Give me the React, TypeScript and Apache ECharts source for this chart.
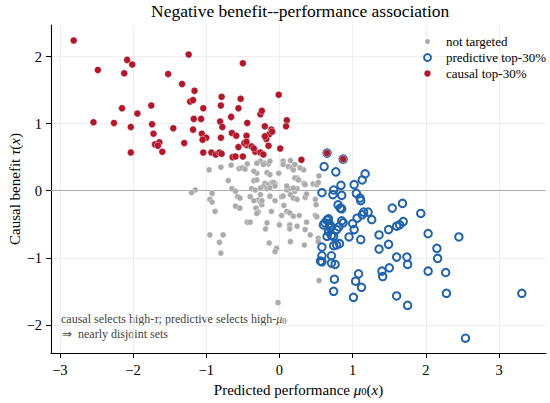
import React, { useEffect, useRef } from "react";
import * as echarts from "echarts";

// ---- data ----
const notTargeted: number[][] = [
  [-0.96, 0.31], [-0.8, 0.35], [-0.66, 0.38], [-0.55, 0.33], [-0.44, 0.4], [-0.26, 0.44], [-0.2, 0.41],
  [-0.15, 0.4], [0.05, 0.44], [0.15, 0.45], [0.12, 0.36], [0.17, 0.34], [0.19, 0.31], [0.33, 0.31],
  [-0.31, 0.26], [-0.17, 0.27], [-0.01, 0.26], [0.24, 0.19], [-0.7, 0.15], [-0.35, 0.15], [-0.2, 0.11],
  [-0.15, 0.09], [-0.1, 0.12], [-0.06, 0.11], [-0.22, 0.06], [-0.17, 0.03], [-0.38, 0.03], [-0.33, 0.01],
  [0.1, 0.01], [0.15, 0.03], [0.21, -0.01], [0.24, 0.03], [0.33, 0.11], [0.46, 0.1], [0.51, 0.09],
  [-1.15, 0.01], [-1.2, -0.03], [-0.92, -0.04], [-0.65, 0.03], [-0.6, -0.01], [-0.57, -0.09], [-0.4, -0.09],
  [-0.26, -0.06], [-0.13, -0.09], [0.03, -0.09], [0.15, -0.06], [0.19, -0.11], [0.35, -0.1], [-0.95, -0.13],
  [-0.92, -0.17], [-0.29, -0.14], [-0.26, -0.17], [-0.24, -0.21], [0.49, -0.13], [-0.55, -0.26], [-0.32, -0.26],
  [-0.29, -0.32], [-0.31, -0.34], [-0.11, -0.31], [0.06, -0.22], [0.1, -0.31], [-0.88, -0.31], [0.03, -0.37],
  [0.14, -0.33], [0.19, -0.38], [0.27, -0.37], [0.49, -0.37], [-0.44, -0.47], [-0.4, -0.47], [-0.17, -0.48],
  [0.0, -0.51], [0.14, -0.51], [0.14, -0.57], [0.24, -0.53], [0.37, -0.47], [-0.19, -0.57], [0.35, -0.58],
  [0.42, -0.66], [0.53, -0.71], [-0.95, -0.66], [-0.77, -0.66], [-0.82, -0.77], [0.15, -0.76], [-0.14, -0.78],
  [-0.04, -0.86], [-0.06, -0.91], [0.34, -0.81], [-0.8, -0.93], [0.54, -1.34], [-0.02, -1.67],
  [0.34, 0.1], [0.54, 0.22], [0.5, -0.21], [0.51, -0.39], [0.53, -0.76],
  [-0.51, 0.34], [-0.47, 0.32], [-0.31, 0.41], [-0.22, 0.39], [-0.13, 0.44], [0.05, 0.39], [0.21, 0.39],
  [0.28, 0.34], [-0.35, 0.29], [-0.31, 0.16], [-0.13, 0.24], [-0.08, 0.12], [-0.06, 0.07], [-0.13, 0.04],
  [-0.26, 0.04], [-0.54, -0.11], [0.1, 0.07], [0.19, 0.04], [0.21, 0.19], [0.26, 0.16], [0.35, 0.09],
  [0.37, -0.05], [0.53, 0.12], [0.05, -0.08], [0.24, -0.13], [-0.13, -0.08], [-0.06, -0.15], [-0.24, -0.15],
  [-0.35, -0.15], [-0.6, -0.23], [-0.54, -0.26],
];

const predictiveTop: number[][] = [
  [0.61, 0.36], [0.77, 0.28], [1.17, 0.25], [1.13, 0.16], [1.02, 0.09], [0.84, 0.08], [0.74, 0.01],
  [0.58, -0.03], [0.73, -0.06], [0.85, -0.07], [1.05, -0.04], [1.11, -0.15], [0.8, -0.21], [0.85, -0.27],
  [1.54, -0.26], [1.68, -0.19], [1.93, -0.34], [1.15, -0.32], [1.21, -0.32], [1.26, -0.43], [1.06, -0.41],
  [0.85, -0.45], [0.65, -0.44], [0.67, -0.42], [0.62, -0.48], [0.6, -0.51], [0.68, -0.49], [0.71, -0.54],
  [0.81, -0.54], [0.78, -0.58], [1.0, -0.49], [1.02, -0.58], [1.69, -0.46], [1.64, -0.51], [1.6, -0.53],
  [1.49, -0.58], [1.36, -0.66], [2.03, -0.64], [2.45, -0.69], [0.67, -0.61], [0.71, -0.67], [0.65, -0.68],
  [0.74, -0.68], [0.95, -0.69], [1.11, -0.73], [0.74, -0.82], [0.82, -0.79], [0.58, -0.84], [1.49, -0.8],
  [1.36, -0.87], [2.15, -0.86], [0.58, -0.97], [0.71, -0.97], [1.6, -0.99], [1.74, -0.99], [1.75, -1.1],
  [2.16, -1.01], [0.58, -1.06], [0.71, -1.08], [0.76, -1.1], [2.03, -1.2], [2.27, -1.22], [1.08, -1.24],
  [1.04, -1.35], [1.12, -1.44], [1.4, -1.2], [1.41, -1.28], [1.5, -1.15], [0.75, -1.32], [0.74, -1.5],
  [1.01, -1.59], [1.6, -1.57], [1.75, -1.71], [2.28, -1.53], [3.31, -1.53], [2.54, -2.2],
  [0.65, 0.56], [0.87, 0.47], [0.83, -0.26], [0.69, -0.55], [0.87, -0.48], [1.13, -0.36], [1.1, -0.11],
  [0.56, -1.05], [0.78, -0.81],
];

const causalTop: number[][] = [
  [-2.81, 2.24], [-2.48, 1.8], [-2.08, 1.95], [-2.01, 1.88], [-2.12, 1.75], [-1.24, 2.03], [-0.5, 1.9],
  [-1.52, 1.74], [-1.33, 1.59], [-1.16, 1.49], [-1.22, 1.33], [-1.18, 1.35], [-0.79, 1.4], [-0.53, 1.37],
  [-0.01, 1.43], [-2.15, 1.23], [-1.94, 1.15], [-1.75, 1.27], [-0.8, 1.27], [-1.04, 1.23], [-0.56, 1.23],
  [-0.26, 1.14], [-0.24, 1.19], [-0.66, 1.1], [-2.54, 1.02], [-2.26, 1.01], [-2.03, 0.95], [-1.74, 0.99],
  [-1.17, 1.07], [-1.07, 1.07], [-0.81, 1.03], [-0.44, 1.01], [0.1, 1.05], [0.09, 0.96], [-0.78, 0.95],
  [-1.45, 0.93], [-1.18, 0.91], [-1.72, 0.85], [-1.06, 0.85], [-1.0, 0.79], [-1.05, 0.76], [-0.65, 0.86],
  [-0.8, 0.79], [-0.59, 0.82], [-0.45, 0.82], [-0.2, 0.96], [-0.11, 0.91], [-0.14, 0.84], [-0.18, 0.77],
  [-0.15, 0.67], [-1.7, 0.69], [-1.64, 0.72], [-1.66, 0.67], [-1.6, 0.58], [-2.03, 0.57], [-1.3, 0.71],
  [-1.04, 0.57], [-0.93, 0.57], [-0.87, 0.54], [-0.82, 0.57], [-0.79, 0.55], [-0.56, 0.65], [-0.45, 0.68],
  [-0.48, 0.71], [-0.38, 0.66], [-0.33, 0.58], [-0.26, 0.57], [-0.22, 0.54], [-0.64, 0.5], [-0.6, 0.51],
  [-0.5, 0.51], [0.01, 0.63], [0.3, 0.46], [0.65, 0.56], [0.87, 0.47], [-0.35, 0.63], [-0.1, 0.88],
  [-0.2, 0.81], [-0.45, 0.73],
];

const xTicks = [-3, -2, -1, 0, 1, 2, 3];
const yTicks = [-2, -1, 0, 1, 2];
const seriesNames = ["not targeted", "predictive top-30%", "causal top-30%"];
const titleText = "Negative benefit--performance association";

const GRAY = "#ababab";
const RED = "#b2182b";
const BLUE = "#1f62ad";
const SERIF = "Liberation Serif, Times New Roman, serif";

const fmt = (v: number) => (v < 0 ? "\u2212" + Math.abs(v) : String(v));

export default function App() {
  const ref = useRef<HTMLDivElement>(null);
  useEffect(() => {
    if (!ref.current) return;
    const chart = echarts.init(ref.current, null, { renderer: "svg" });
    const nameRich = {
      t: { fontFamily: SERIF, fontSize: 15, color: "#000", lineHeight: 17, verticalAlign: "bottom" },
      i: { fontFamily: SERIF, fontSize: 15, fontStyle: "italic", color: "#000", lineHeight: 17, verticalAlign: "bottom" },
      s: { fontFamily: SERIF, fontSize: 10.5, color: "#000", lineHeight: 11.5, verticalAlign: "bottom" },
    };
    const noteRich = {
      t: { fontFamily: SERIF, fontSize: 12, fill: "#444", lineHeight: 14, verticalAlign: "bottom" },
      i: { fontFamily: SERIF, fontSize: 12, fontStyle: "italic", fill: "#444", lineHeight: 14, verticalAlign: "bottom" },
      s: { fontFamily: SERIF, fontSize: 8.5, fill: "#444", lineHeight: 9.5, verticalAlign: "bottom" },
    };
    const option: any = {
      animation: false,
      backgroundColor: "#fff",
      textStyle: { fontFamily: SERIF },
      title: {
        text: titleText,
        left: 151,
        top: 2,
        padding: 0,
        textStyle: { fontFamily: SERIF, fontSize: 17.5, fontWeight: "normal", color: "#000" },
      },
      legend: {
        orient: "vertical",
        left: 423,
        top: 35,
        itemWidth: 7,
        itemHeight: 7,
        itemGap: 3,
        padding: 0,
        textStyle: { fontFamily: SERIF, fontSize: 13, color: "#000", lineHeight: 13, padding: [0, 0, 0, 10] },
        data: [
          { name: seriesNames[0], icon: "circle", itemStyle: { color: GRAY, borderColor: "#fff", borderWidth: 2 } },
          { name: seriesNames[1], icon: "circle", itemStyle: { color: "rgba(255,255,255,0)", borderColor: BLUE, borderWidth: 1.9 } },
          { name: seriesNames[2], icon: "circle", itemStyle: { color: RED, borderColor: "#fff", borderWidth: 0.5 } },
        ],
      },
      grid: { left: 51, right: 4, top: 25, bottom: 50, containLabel: false, outerBoundsMode: "none" },
      xAxis: {
        type: "value",
        min: -3.12,
        max: 3.64,
        name: "{t|Predicted performance }{i|\u03bc}{s|0}{t|(}{i|x}{t|)}",
        nameLocation: "middle",
        nameGap: 27,
        nameTextStyle: { rich: nameRich },
        axisLine: { show: true, onZero: false, lineStyle: { color: "#000", width: 1.1 } },
        axisTick: { show: true, length: 5, customValues: xTicks, lineStyle: { color: "#000", width: 1 } },
        axisLabel: {
          customValues: xTicks,
          formatter: fmt,
          margin: 9,
          fontFamily: SERIF,
          fontSize: 14.5,
          color: "#000",
        },
        splitLine: { show: true, lineStyle: { color: "#ebebeb", width: 0.8 } },
      },
      yAxis: {
        type: "value",
        min: -2.42,
        max: 2.47,
        name: "{t|Causal benefit }{i|\u03c4}{t|(}{i|x}{t|)}",
        nameLocation: "middle",
        nameGap: 29,
        nameMoveOverlap: false,
        nameTextStyle: { rich: nameRich },
        axisLine: { show: true, onZero: false, lineStyle: { color: "#000", width: 1.1 } },
        axisTick: { show: true, length: 5, customValues: yTicks, lineStyle: { color: "#000", width: 1 } },
        axisLabel: {
          customValues: yTicks,
          formatter: fmt,
          margin: 9,
          fontFamily: SERIF,
          fontSize: 14.5,
          color: "#000",
        },
        splitLine: { show: true, lineStyle: { color: "#ebebeb", width: 0.8 } },
      },
      graphic: [
        {
          type: "text",
          left: 61,
          top: 313,
          style: {
            text: "{t|causal selects high-}{i|\u03c4}{t|; predictive selects high-}{i|\u03bc}{s|0}",
            rich: noteRich,
          },
        },
        {
          type: "text",
          left: 62,
          top: 328,
          style: { text: "{t|\u21d2  nearly disjoint sets}", rich: noteRich },
        },
      ],
      series: [
        {
          name: seriesNames[0],
          type: "scatter",
          data: notTargeted,
          symbolSize: 6,
          itemStyle: { color: GRAY, borderColor: "#fff", borderWidth: 0.4, opacity: 1 },
          z: 2,
          markLine: {
            silent: true,
            symbol: "none",
            label: { show: false },
            lineStyle: { color: "#aaaaaa", width: 1.2, type: "solid" },
            data: [{ yAxis: 0 }],
            z: 1,
          },
        },
        {
          name: seriesNames[1],
          type: "scatter",
          data: predictiveTop,
          symbolSize: 7.5,
          itemStyle: { color: "rgba(255,255,255,0)", borderColor: BLUE, borderWidth: 2, opacity: 1 },
          z: 3,
        },
        {
          name: seriesNames[2],
          type: "scatter",
          data: causalTop,
          symbolSize: 7,
          itemStyle: { color: RED, borderColor: "#fff", borderWidth: 0.4, opacity: 1 },
          z: 4,
        },
      ],
    };
    chart.setOption(option);
    return () => chart.dispose();
  }, []);
  return (
    <div
      ref={ref}
      style={{ position: "fixed", left: 0, top: 0, width: 550, height: 403, background: "#fff" }}
    />
  );
}
